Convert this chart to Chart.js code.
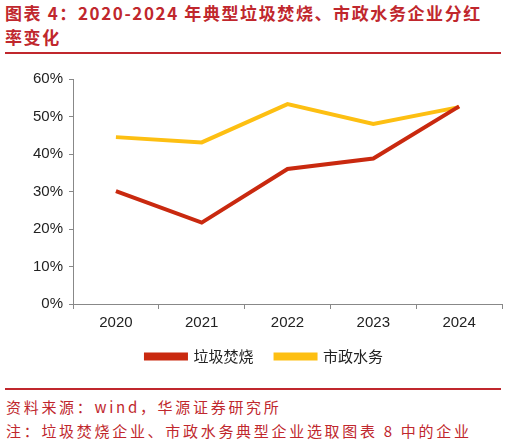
<!DOCTYPE html>
<html>
<head>
<meta charset="utf-8">
<script src="https://cdn.jsdelivr.net/npm/chart.js@4"></script>
<style>
  body { margin: 0; width: 506px; height: 444px; background: #fff; position: relative; overflow: hidden; font-family: "Noto Sans CJK SC", sans-serif; }
  .title { position: absolute; left: 5px; top: 1px; width: 492px; color: #c0272d; font-weight: bold; font-size: 17px; line-height: 24px; letter-spacing: 1.6px; }
  .rule { position: absolute; left: 5px; width: 496px; height: 2px; background: #c0272d; }
  .note { position: absolute; left: 6px; color: #c0272d; font-size: 15px; line-height: 20px; letter-spacing: 2.7px; }
  #wrap { position: absolute; left: 0; top: 60px; width: 506px; height: 320px; }
</style>
</head>
<body>
<div class="title">图表 4：2020-2024 年典型垃圾焚烧、市政水务企业分红率变化</div>
<div class="rule" style="top:52px"></div>
<div id="wrap"><canvas id="chart"></canvas></div>
<div class="rule" style="top:388px"></div>
<div class="note" style="top:397px">资料来源：wind，华源证券研究所</div>
<div class="note" style="top:421px">注：垃圾焚烧企业、市政水务典型企业选取图表 8 中的企业</div>
<script>
// years on the x axis
const years = ["2020", "2021", "2022", "2023", "2024"];
// dividend payout ratio, %
const wasteBurning = [30.1, 21.7, 36.0, 38.8, 52.7];
const municipalWater = [44.5, 43.1, 53.3, 48.0, 52.5];

const axisColor = "#888";
const tickFont = { family: "Liberation Sans", size: 15 };

new Chart(document.getElementById("chart"), {
  type: "line",
  data: {
    labels: years,
    datasets: [
      {
        label: "垃圾焚烧",
        data: wasteBurning,
        borderColor: "#c9290f",
        backgroundColor: "#c9290f",
        borderWidth: 4,
        pointRadius: 0,
        tension: 0,
      },
      {
        label: "市政水务",
        data: municipalWater,
        borderColor: "#fdbf12",
        backgroundColor: "#fdbf12",
        borderWidth: 4,
        pointRadius: 0,
        tension: 0,
      },
    ],
  },
  options: {
    responsive: true,
    maintainAspectRatio: false,
    animation: false,
    layout: { padding: { top: 19, right: 4, left: 27, bottom: 6 } },
    plugins: {
      tooltip: { enabled: false },
      legend: {
        position: "bottom",
        labels: {
          boxWidth: 40,
          boxHeight: 4,
          padding: 12,
          color: "#222",
          font: { family: "Noto Sans CJK SC", size: 15 },
          // a bit more room between the two legend items
          generateLabels: (chart) =>
            Chart.defaults.plugins.legend.labels
              .generateLabels(chart)
              .map((l, i) => ({ ...l, text: i === 0 ? l.text + "   " : l.text })),
        },
      },
    },
    scales: {
      x: {
        offset: true,
        grid: { offset: true, drawOnChartArea: false, drawTicks: true, tickLength: 5, color: axisColor },
        border: { color: axisColor, width: 1 },
        ticks: { color: "#222", font: tickFont, padding: 5 },
      },
      y: {
        min: 0,
        max: 60,
        grid: { drawOnChartArea: false, drawTicks: true, tickLength: 4, color: axisColor },
        border: { color: axisColor, width: 1 },
        ticks: {
          stepSize: 10,
          color: "#222",
          font: tickFont,
          padding: 6,
          callback: (v) => v + "%",
        },
      },
    },
  },
});
</script>
</body>
</html>
